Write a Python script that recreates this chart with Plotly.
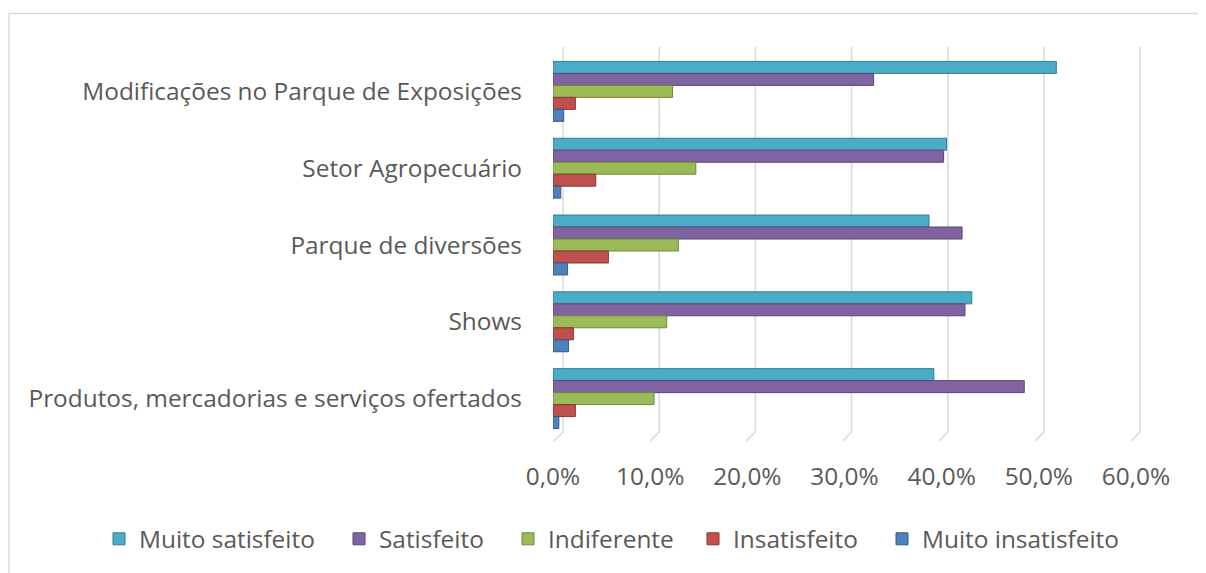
import plotly.graph_objects as go

categories = [
    "Modificações no Parque de Exposições",
    "Setor Agropecuário",
    "Parque de diversões",
    "Shows",
    "Produtos, mercadorias e serviços ofertados",
]
series_names = ["Muito satisfeito", "Satisfeito", "Indiferente", "Insatisfeito", "Muito insatisfeito"]
muito_satisfeito = [0.518, 0.405, 0.387, 0.431, 0.392]
satisfeito = [0.330, 0.402, 0.421, 0.424, 0.485]
indiferente = [0.123, 0.147, 0.129, 0.117, 0.104]
insatisfeito = [0.023, 0.044, 0.057, 0.021, 0.023]
muito_insatisfeito = [0.011, 0.008, 0.015, 0.016, 0.006]
tick_values = [0.0, 0.1, 0.2, 0.3, 0.4, 0.5, 0.6]
tick_labels = ["0,0%", "10,0%", "20,0%", "30,0%", "40,0%", "50,0%", "60,0%"]

colors = ["#4BACC6", "#8064A2", "#9BBB59", "#C0504D", "#4F81BD"]
edges = ["#2F7F95", "#5A4478", "#6F8A3A", "#8E3330", "#34598A"]
values = [muito_satisfeito, satisfeito, indiferente, insatisfeito, muito_insatisfeito]

OFF = 8  # page body margin
W, H = 1206 - OFF, 573 - OFF
# screen-space plot area targets
SL, SR, ST, SB = 553, 1136, 53, 441
ml, mr, mt, mb = SL - OFF, W - (SR - OFF), ST - OFF, H - (SB - OFF)
pw, ph = SR - SL, SB - ST

def px_x(p):
    return (p - SL) / pw

def px_y(p):
    return (SB - p) / ph

# legend symbol centres (screen px) for each entry
legend_centres = [120, 360, 529, 714, 903]
legend_keys = ["legend", "legend2", "legend3", "legend4", "legend5"]

fig = go.Figure()
for name, vals, c, e, lk in zip(series_names, values, colors, edges, legend_keys):
    fig.add_trace(go.Bar(
        y=categories, x=vals, name=name, orientation="h", legend=lk,
        marker=dict(color=c, line=dict(color=e, width=1)),
    ))

shapes = []
# chart border
shapes.append(dict(type="rect", xref="paper", yref="paper",
                   x0=px_x(9), x1=px_x(1230), y0=px_y(600), y1=px_y(13),
                   line=dict(color="#D9D9D9", width=1.5), fillcolor="rgba(0,0,0,0)", layer="below"))
# 3D-style gridlines (back wall offset)
for v in tick_values:
    back = 563 + v / 0.1 * 96.2
    front = back - 9
    shapes.append(dict(type="path", xref="paper", yref="paper",
                       path=f"M {px_x(back)},{px_y(47)} L {px_x(back)},{px_y(436)} L {px_x(front)},{px_y(445)}",
                       line=dict(color="#D9D9D9", width=1.5), layer="below"))

FS = 24.4
layout_legends = {}
for lk, cx in zip(legend_keys, legend_centres):
    layout_legends[lk] = dict(orientation="h", x=px_x(cx - 21), xanchor="left",
                              y=px_y(544), yanchor="middle", bgcolor="rgba(0,0,0,0)",
                              font=dict(size=FS, color="#595959"), itemwidth=30)

fig.update_layout(
    width=W, height=H,
    margin=dict(l=ml, r=mr, t=mt, b=mb, pad=0),
    paper_bgcolor="white", plot_bgcolor="white",
    barmode="group", bargap=0.22, bargroupgap=0,
    font=dict(family="Open Sans", size=FS, color="#595959"),
    shapes=shapes,
    xaxis=dict(range=[0, 0.6], tickvals=tick_values, ticktext=tick_labels,
               showgrid=False, zeroline=False, showline=False, ticks="",
               ticklabelstandoff=23, tickfont=dict(size=FS, color="#595959")),
    yaxis=dict(autorange="reversed", showgrid=False, zeroline=False, showline=False,
               ticks="", ticklabelstandoff=30, tickfont=dict(size=FS, color="#595959")),
    showlegend=True,
    **layout_legends,
)

fig.write_html("out.html")
